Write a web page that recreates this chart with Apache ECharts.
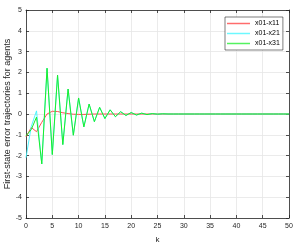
<!DOCTYPE html>
<html>
<head>
<meta charset="utf-8">
<script src="https://cdn.jsdelivr.net/npm/echarts@6/dist/echarts.min.js"></script>
<style>html,body{margin:0;padding:0;background:#fff}#c{width:304px;height:247px}</style>
</head>
<body>
<div id="c"></div>
<script>
var kValues = [];
for (var i = 0; i <= 50; i++) kValues.push(i);
var seriesNames = ['x01-x11', 'x01-x21', 'x01-x31'];
var seriesColors = ['#ff3b3b', '#3bf5ff', '#1aee2a'];
var red = [-1.1, -0.65, -0.85, -0.4, 0.0, 0.13, 0.12, 0.06, 0.02, -0.01, -0.02, -0.02, -0.01, 0, 0,
  0, 0, 0, 0, 0, 0, 0, 0, 0, 0, 0, 0, 0, 0, 0, 0, 0, 0, 0, 0, 0, 0, 0, 0, 0, 0, 0, 0, 0, 0, 0, 0, 0, 0, 0, 0];
var cyan = [-2.1, -0.6, 0.15, -2.4, 2.2, -1.95, 1.87, -1.47, 1.2, -1.02, 0.77, -0.62, 0.48, -0.37, 0.32, -0.22, 0.2, -0.13, 0.11, -0.07, 0.07, -0.05, 0.04, -0.03, 0.02, -0.01, 0.01,
  0, 0, 0, 0, 0, 0, 0, 0, 0, 0, 0, 0, 0, 0, 0, 0, 0, 0, 0, 0, 0, 0, 0, 0];
var green = [-1.05, -0.75, -0.15, -2.4, 2.2, -1.95, 1.87, -1.47, 1.2, -1.02, 0.77, -0.62, 0.48, -0.37, 0.32, -0.22, 0.2, -0.13, 0.11, -0.07, 0.07, -0.05, 0.04, -0.03, 0.02, -0.01, 0.01,
  0, 0, 0, 0, 0, 0, 0, 0, 0, 0, 0, 0, 0, 0, 0, 0, 0, 0, 0, 0, 0, 0, 0, 0];
var xTicks = [0, 5, 10, 15, 20, 25, 30, 35, 40, 45, 50];
var yTicks = [-5, -4, -3, -2, -1, 0, 1, 2, 3, 4, 5];

function pairs(ys) { return kValues.map(function (k, i) { return [k, ys[i]]; }); }

var axisColor = '#262626';
var font = 'Liberation Sans, Arial, sans-serif';
var boxAxis = {
  axisLine: {show: true, onZero: false, lineStyle: {color: axisColor, width: 0.8}},
  axisTick: {show: true, inside: true, length: 3, lineStyle: {color: axisColor, width: 0.8}}
};
var chart = echarts.init(document.getElementById('c'), null, {renderer: 'canvas'});
chart.setOption({
  animation: false,
  backgroundColor: '#fff',
  grid: {left: 26, right: 15, top: 10, bottom: 29, containLabel: false, outerBoundsMode: 'none'},
  legend: {
    orient: 'vertical', left: 225, top: 17,
    padding: [3, 3, 3, 2],
    itemWidth: 23, itemHeight: 1.5, itemGap: 3,
    borderColor: axisColor, borderWidth: 0.6, backgroundColor: '#fff',
    textStyle: {fontSize: 7, lineHeight: 7, color: '#000', fontFamily: font},
    data: seriesNames.map(function (n, i) {
      return {name: n, icon: 'rect', itemStyle: {color: seriesColors[i], borderWidth: 0, opacity: 0.75}};
    })
  },
  xAxis: [Object.assign({
    type: 'value', min: xTicks[0], max: xTicks[xTicks.length - 1], interval: 5,
    name: 'k', nameLocation: 'middle', nameGap: 18, nameMoveOverlap: false,
    nameTextStyle: {fontSize: 8, color: axisColor, fontFamily: font},
    axisLabel: {fontSize: 7, color: axisColor, fontFamily: font, margin: 5},
    splitLine: {show: true, lineStyle: {color: '#e6e6e6', width: 0.8}}
  }, boxAxis), Object.assign({
    type: 'value', position: 'top', min: 0, max: 50, interval: 5,
    axisLabel: {show: false}, splitLine: {show: false}
  }, boxAxis)],
  yAxis: [Object.assign({
    type: 'value', min: yTicks[0], max: yTicks[yTicks.length - 1], interval: 1,
    name: 'First-state error trajectories for agents', nameLocation: 'middle', nameGap: 14, nameMoveOverlap: false,
    nameTextStyle: {fontSize: 9, color: axisColor, fontFamily: font},
    axisLabel: {fontSize: 7, color: axisColor, fontFamily: font, margin: 4},
    splitLine: {show: true, lineStyle: {color: '#e6e6e6', width: 0.8}}
  }, boxAxis), Object.assign({
    type: 'value', position: 'right', min: -5, max: 5, interval: 1,
    axisLabel: {show: false}, splitLine: {show: false}
  }, boxAxis)],
  series: [
    {name: seriesNames[0], type: 'line', data: pairs(red), symbol: 'none', color: seriesColors[0], lineStyle: {width: 0.9}},
    {name: seriesNames[1], type: 'line', data: pairs(cyan), symbol: 'none', color: seriesColors[1], lineStyle: {width: 0.9}},
    {name: seriesNames[2], type: 'line', data: pairs(green), symbol: 'none', color: seriesColors[2], lineStyle: {width: 1}}
  ]
});
</script>
</body>
</html>
